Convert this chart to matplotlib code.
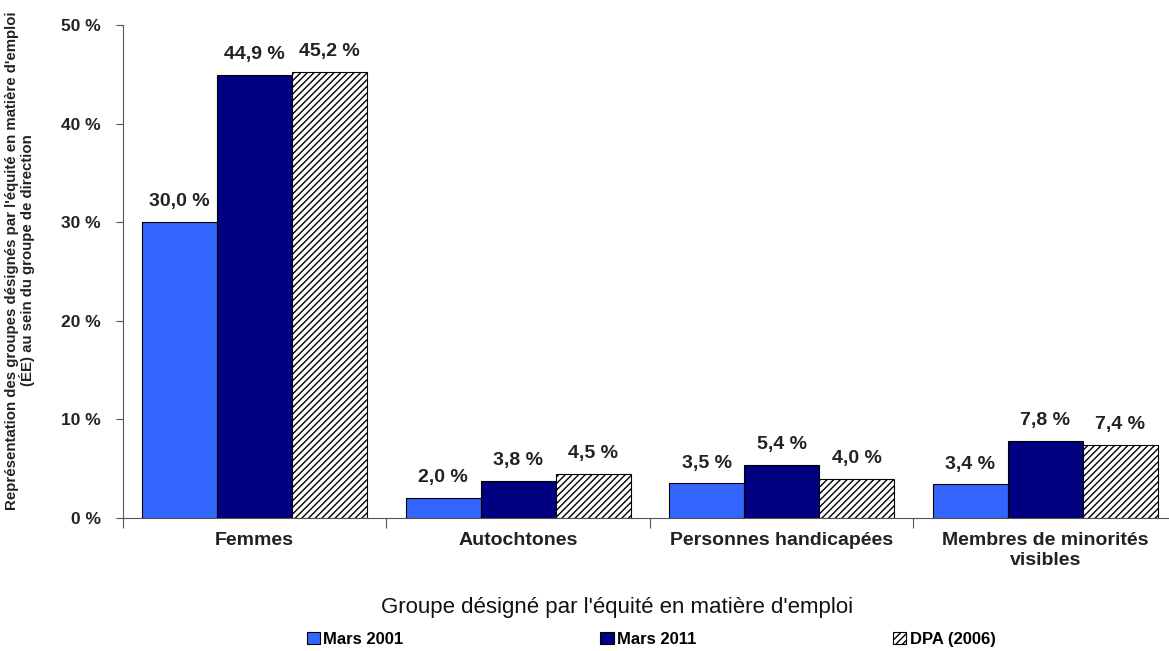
import numpy as np
import matplotlib.pyplot as plt
from matplotlib.patches import Patch

plt.rcParams['font.family'] = ['Liberation Sans', 'DejaVu Sans']
plt.rcParams['hatch.linewidth'] = 1.0

groupes = ['Femmes', 'Autochtones', 'Personnes handicapées', 'Membres de minorités\nvisibles']
mars_2001 = [30.0, 2.0, 3.5, 3.4]
mars_2011 = [44.9, 3.8, 5.4, 7.8]
dpa_2006 = [45.2, 4.5, 4.0, 7.4]
series_noms = ['Mars 2001', 'Mars 2011', 'DPA (2006)']


def fmt(v):
    return ('%.1f %%' % v).replace('.', ',')


fig = plt.figure(figsize=(11.69, 6.51), dpi=100)
ax = fig.add_axes([0.1052, 0.2043, 0.9016, 0.7573])

x = np.arange(len(groupes))
w = 0.285
b1 = ax.bar(x - w, mars_2001, w, color='#3366ff', edgecolor='black', linewidth=0.8)
b2 = ax.bar(x, mars_2011, w, color='#000080', edgecolor='black', linewidth=0.8)
b3 = ax.bar(x + w, dpa_2006, w, color='white', edgecolor='black', linewidth=0.8, hatch='/////')

for bars, vals in [(b1, mars_2001), (b2, mars_2011), (b3, dpa_2006)]:
    for rect, v in zip(bars, vals):
        ax.text(rect.get_x() + rect.get_width() / 2, v + 1.2, fmt(v),
                ha='center', va='bottom', fontsize=14, fontweight='bold', color='#222222')

ax.set_xlim(-0.5, len(groupes) - 0.5)
ax.set_ylim(0, 50)
ax.set_yticks(range(0, 51, 10))
ax.set_yticklabels(['%d %%' % t for t in range(0, 51, 10)], fontsize=12.5, fontweight='bold', color='#222222')
ax.tick_params(axis='y', length=5, pad=11, color='#555555')

ax.set_xticks(np.arange(-0.5, len(groupes), 1.0))
ax.set_xticklabels([])
ax.tick_params(axis='x', which='major', length=7, color='#555555')
ax.set_xticks(x, minor=True)
ax.set_xticklabels(groupes, minor=True, fontsize=14, fontweight='bold', color='#222222', linespacing=1.25)
ax.tick_params(axis='x', which='minor', length=0, pad=10)

for s in ['top', 'right']:
    ax.spines[s].set_visible(False)
for s in ['left', 'bottom']:
    ax.spines[s].set_color('#555555')

ax.set_xlabel("Groupe désigné par l'équité en matière d'emploi", fontsize=16, color='#111111')
ax.xaxis.set_label_coords(0.469, -0.16)

fig.text(0.0172, 0.60,
         "Représentation des groupes désignés par l'équité en matière d'emploi\n"
         "(ÉE) au sein du groupe de direction",
         rotation=90, ha='center', va='center', multialignment='center',
         fontsize=10.8, fontweight='bold', color='#222222', linespacing=1.0)

handles = [Patch(facecolor='#3366ff', edgecolor='black', linewidth=0.8),
           Patch(facecolor='#000080', edgecolor='black', linewidth=0.8),
           Patch(facecolor='white', edgecolor='black', linewidth=0.8, hatch='/////')]
fig.legend(handles, series_noms, loc='center', bbox_to_anchor=(0.557, 0.018), ncol=3,
           frameon=False, handlelength=0.8, handleheight=0.8, handletextpad=0.2,
           columnspacing=11.8, prop={'weight': 'bold', 'size': 12})

fig.savefig('out.png', dpi=100)
